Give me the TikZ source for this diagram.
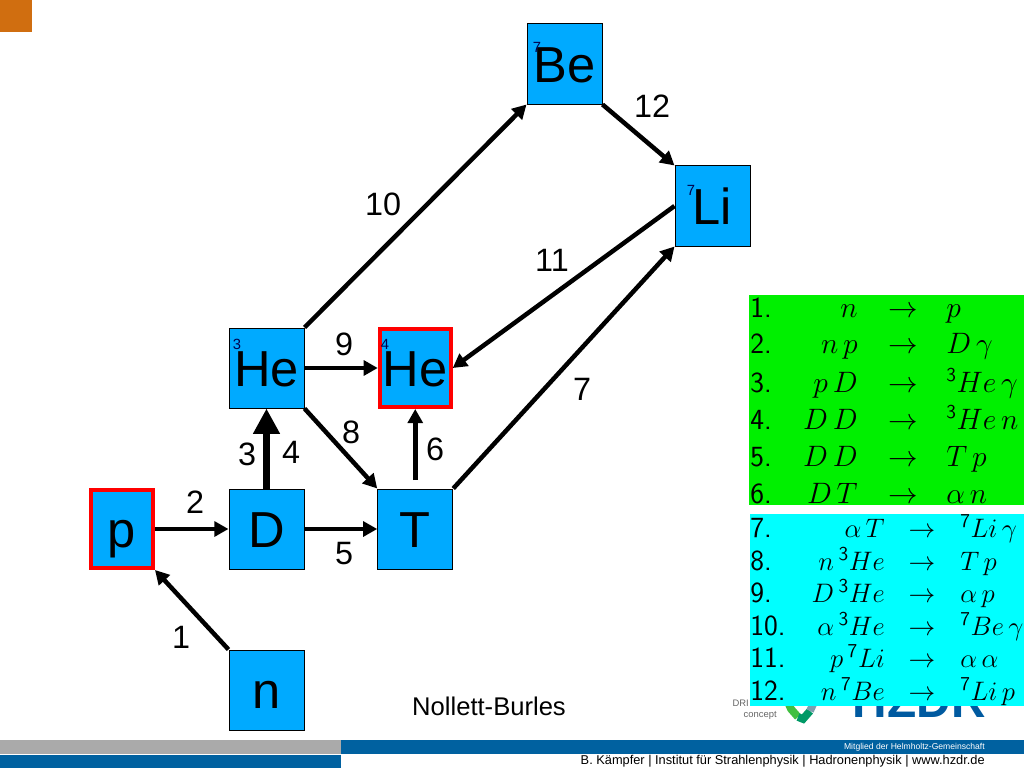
\documentclass[tikz,border=0pt]{standalone}
\usepackage{fix-cm}
\usepackage{fontspec}
\setmainfont{Liberation Sans}
\usetikzlibrary{arrows.meta}
\definecolor{boxblue}{RGB}{0,170,255}
\definecolor{barblue}{RGB}{0,97,160}
\definecolor{bargray}{RGB}{170,170,170}
\definecolor{cornerorange}{RGB}{208,110,16}
\definecolor{hzdrblue}{RGB}{0,90,160}
\definecolor{tablegreen}{RGB}{0,240,0}
\definecolor{tablecyan}{RGB}{0,255,255}
\newcommand{\iso}[1]{{}^{\mbox{\fontsize{14}{16}\selectfont\sffamily #1}}}
\begin{document}
\begin{tikzpicture}[x=0.025cm, y=-0.025cm]
\tikzstyle{nuclide} = [draw, fill=boxblue, line width=0.7pt, minimum width=1.875cm, minimum height=2cm, inner sep=0pt, text height=26pt, text depth=0pt, font=\fontsize{36}{40}\selectfont];
\tikzstyle{stable} = [nuclide, draw=red, line width=2.8pt, minimum width=1.775cm, minimum height=1.95cm];
\tikzstyle{mass} = [inner sep=0pt, text=black!70!blue, font=\fontsize{10.5}{12}\selectfont];
\tikzstyle{chan} = [inner sep=0pt, font=\fontsize{23}{26}\selectfont];
\tikzstyle{flow} = [line width=3.2pt, -{Triangle[length=10pt, width=10.5pt]}];
\tikzstyle{bigflow} = [line width=5.5pt, -{Triangle[length=18pt, width=18pt]}];
\tikzstyle{tabnum} = [inner sep=0pt, anchor=base west, font=\fontsize{20.8}{24}\selectfont\sffamily];
\tikzstyle{tabgreen} = [inner sep=0pt, font=\fontsize{21}{25}\selectfont];
\tikzstyle{tabcyan} = [inner sep=0pt, font=\fontsize{19}{23}\selectfont];
\tikzstyle{logotext} = [inner sep=0pt, anchor=base east, text=black!60, font=\fontsize{6.7}{8}\selectfont];
\useasboundingbox (0,0) rectangle (1024,768);
\fill[cornerorange] (0,0) rectangle (32,32);
\fill[bargray] (0,740) rectangle (341,754);
\fill[barblue] (341,740) rectangle (1024,754);
\fill[barblue] (0,755) rectangle (341,768);
\node[inner sep=0pt, anchor=east, text=white, font=\fontsize{6.1}{8}\selectfont] (member) at (985,747) {Mitglied der Helmholtz-Gemeinschaft};
\node[inner sep=0pt, anchor=east, font=\fontsize{9.1}{11}\selectfont] (footer) at (985,761) {B. Kämpfer | Institut für Strahlenphysik | Hadronenphysik | www.hzdr.de};
\node[inner sep=0pt, anchor=base east, text=hzdrblue, font=\bfseries\fontsize{34}{36}\selectfont] (hzdr) at (986,717) {HZDR};
\node[logotext] (dri) at (749,706) {DRI};
\node[logotext] (concept) at (777,717) {concept};
\draw[line width=5.5pt, color=green!50!gray] (787,700) -- (791,709) -- (798,717);
\draw[line width=5.5pt, color=teal!80!green] (798,717) -- (803,719) -- (810,711);
\draw[line width=5.5pt, color=cyan!30!gray] (810,711) -- (815,700);
\node[nuclide] (n) at (266.5,690) {n};
\node[stable, minimum width=1.55cm] (p) at (122,529) {p};
\node[nuclide] (D) at (266.5,529) {D};
\node[nuclide] (T) at (415.25,529) {T};
\node[nuclide] (He3) at (266.5,368) {He};
\node[stable] (He4) at (415.25,368) {He};
\node[nuclide] (Be7) at (564.5,64) {Be};
\node[nuclide] (Li7) at (712.5,206) {Li};
\node[mass] (mHe3) at (237,344) {3};
\node[mass] (mHe4) at (385,344) {4};
\node[mass] (mBe7) at (537,47) {7};
\node[mass] (mLi7) at (691,190) {7};
\draw[flow] (n.north west) -- (p.south east);
\draw[flow] (p) -- (D);
\draw[bigflow] (D) -- (He3);
\draw[flow] (D) -- (T);
\draw[flow, shorten <=6pt] (T) -- (He4);
\draw[flow] (T.north east) -- (Li7.south west);
\draw[flow] (He3.south east) -- (T.north west);
\draw[flow] (He3) -- (He4);
\draw[flow] (He3.north east) -- (Be7.south west);
\draw[flow] (Li7.west) -- (He4.east);
\draw[flow] (Be7.south east) -- (Li7.north west);
\node[chan] (l1) at (181,637) {1};
\node[chan] (l2) at (195,502) {2};
\node[chan] (l3) at (247,454) {3};
\node[chan] (l4) at (291,452) {4};
\node[chan] (l5) at (344,554) {5};
\node[chan] (l6) at (435,449) {6};
\node[chan] (l7) at (582,389) {7};
\node[chan] (l8) at (351,432) {8};
\node[chan] (l9) at (344,344) {9};
\node[chan] (l10) at (383,204) {10};
\node[chan] (l11) at (552,260) {11};
\node[chan] (l12) at (652,106) {12};
\node[inner sep=0pt, font=\fontsize{18.2}{20}\selectfont] (source) at (489,706) {Nollett-Burles};
\fill[tablegreen] (749,295) rectangle (1024,505);
\fill[tablecyan] (750,514) rectangle (1024,706);
\foreach \i/\y/\lhs/\rhs in {1/317/n/p, 2/353/{n\,p}/{D\,\gamma}, 3/392/{p\,D}/{\iso{3}He\,\gamma}, 4/429/{D\,D}/{\iso{3}He\,n}, 5/466/{D\,D}/{T\,p}, 6/503/{D\,T}/{\alpha\,n}} {
\node[tabnum] (num\i) at (750,\y) {\i.};
\node[tabgreen, anchor=base east] (lhs\i) at (858,\y) {$\lhs$};
\node[tabgreen, anchor=base] (arr\i) at (903,\y) {$\rightarrow$};
\node[tabgreen, anchor=base west] (rhs\i) at (946,\y) {$\rhs$};
}
\foreach \i/\y/\lhs/\rhs in {7/537/{\alpha\,T}/{\iso{7}Li\,\gamma}, 8/570/{n\,\iso{3}He}/{T\,p}, 9/602/{D\,\iso{3}He}/{\alpha\,p}, 10/635/{\alpha\,\iso{3}He}/{\iso{7}Be\,\gamma}, 11/667/{p\,\iso{7}Li}/{\alpha\,\alpha}, 12/700/{n\,\iso{7}Be}/{\iso{7}Li\,p}} {
\node[tabnum] (num\i) at (750,\y) {\i.};
\node[tabcyan, anchor=base east] (lhs\i) at (885,\y) {$\lhs$};
\node[tabcyan, anchor=base] (arr\i) at (922,\y) {$\rightarrow$};
\node[tabcyan, anchor=base west] (rhs\i) at (960,\y) {$\rhs$};
}
\end{tikzpicture}
\end{document}
